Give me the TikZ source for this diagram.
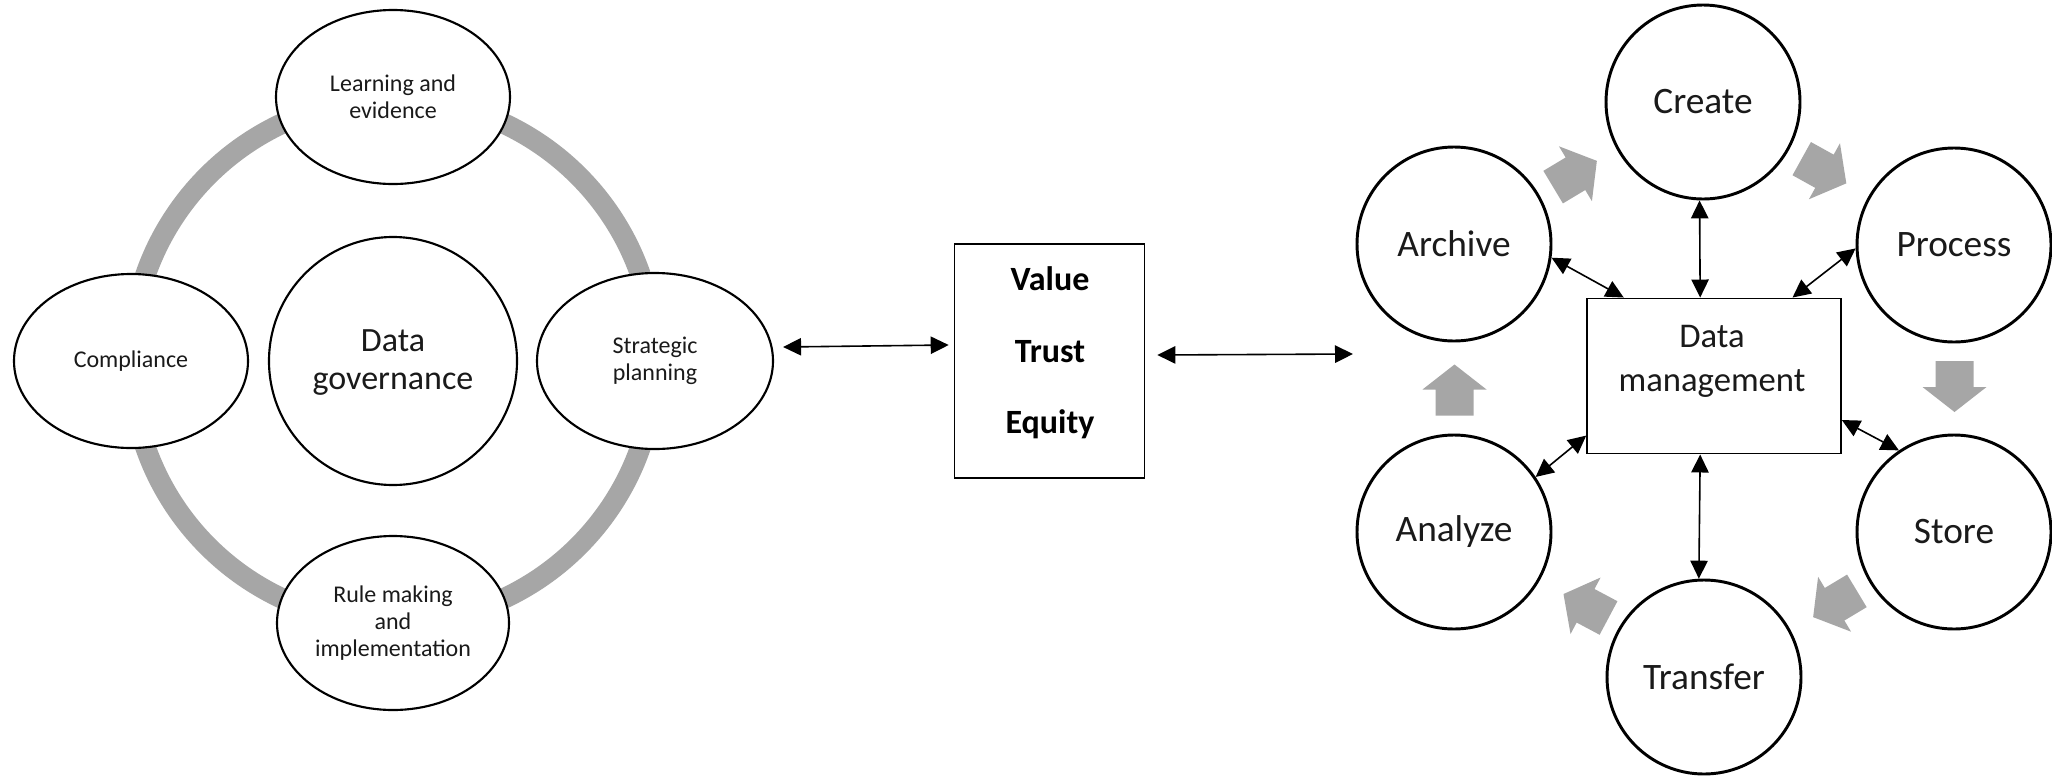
\documentclass[tikz,border=0pt]{standalone}
\usepackage{fontspec}
\setmainfont{Carlito}
\usetikzlibrary{arrows.meta,calc,shapes.geometric}
\definecolor{ringgray}{HTML}{A6A6A6}
\definecolor{txt}{HTML}{1A1A1A}
\tikzset{
  ell/.style={ellipse,draw=black,fill=white,line width=1.6pt,inner sep=0pt,
    text=txt,align=center,font=\fontsize{18}{20.5}\selectfont},
  bigcirc/.style={circle,draw=black,fill=white,line width=2.2pt,inner sep=0pt,
    minimum size=145.5pt,text=txt,font=\fontsize{28}{32}\selectfont},
  dbl/.style={{Triangle[length=13.5pt,width=13pt]}-{Triangle[length=13.5pt,width=13pt]},
    line width=1.2pt,black},
  boxnode/.style={draw=black,line width=1.2pt,inner sep=0pt,fill=white},
  blockarrow/.pic={\fill[ringgray] (-25.5,-19) -- (0.5,-19) -- (0.5,-32) -- (25.5,0)
     -- (0.5,32) -- (0.5,19) -- (-25.5,19) -- cycle;}
}
\begin{document}
\begin{tikzpicture}[x=0.75pt,y=-0.75pt]
\fill[white] (0,0) rectangle (2052,775);
\useasboundingbox (0,0) rectangle (2052,775);

% ---- left cluster ----
\draw[ringgray,line width=15.5pt] (393,361) circle[radius=262];
\node[ell,minimum width=175.5pt,minimum height=130.5pt] (learn) at (393,97) {Learning and\\evidence};
\node[ell,minimum width=175.5pt,minimum height=130.5pt] (compl) at (131,361) {Compliance};
\node[ell,minimum width=177pt,minimum height=132pt] (strat) at (655,361) {Strategic\\planning};
\node[ell,minimum width=174pt,minimum height=130.5pt] (rule) at (393,623) {Rule making\\and\\implementation};
\node[circle,draw=black,fill=white,line width=1.6pt,inner sep=0pt,minimum size=186pt,
  text=txt,align=center,font=\fontsize{25.5}{28.5}\selectfont] (dg) at (393,361) {};
\node[text=txt,align=center,font=\fontsize{25.5}{28.5}\selectfont] (dgtext) at (393,363) {Data\\governance};

% ---- middle box ----
\node[boxnode,minimum width=142.5pt,minimum height=175.5pt] (vte) at (1049.5,361) {};
\node[text=black,align=center,font=\fontsize{25.5}{53.5}\selectfont\bfseries] (vtetext) at (1050,353) {Value\\Trust\\Equity};

\draw[dbl] ($(strat.east)+(9,-14)$) -- ($(vte.west)+(-5,-16)$);
\coordinate (rend) at (1353,354);
\draw[dbl] ($(vte.east)+(12,-6)$) -- (rend);

% ---- right cluster ----
\node[boxnode,minimum width=190.5pt,minimum height=116.5pt] (dm) at (1714,376) {};
\node[text=txt,align=center,font=\fontsize{26}{33}\selectfont] (dmtext) at (1712,361) {Data\\management};

\node[bigcirc] (create) at (1703,102) {Create};
\node[bigcirc] (archive) at (1454,244) {Archive};
\node[bigcirc] (process) at (1954,245) {Process};
\node[bigcirc] (analyze) at (1454,532) {Analyze};
\node[bigcirc] (store) at (1954,532) {Store};
\node[bigcirc] (transfer) at (1704,677) {Transfer};

\pic[rotate=31] at (1575,174) {blockarrow};
\pic[rotate=-29] at (1824,171) {blockarrow};
\pic[rotate=-90] at (1954.5,386.5) {blockarrow};
\pic[rotate=-149] at (1835,604) {blockarrow};
\pic[rotate=152] at (1586,606) {blockarrow};
\pic[rotate=90] at (1454.5,390) {blockarrow};

\draw[dbl] (create.-92) -- (dm.100);
\draw[dbl] (transfer.93) -- (dm.-100);
\draw[dbl] (archive.-8) -- (dm.139);
\draw[dbl] (process.182) -- (dm.45);
\draw[dbl] (analyze.34) -- (dm.205);
\draw[dbl] (store.124) -- (dm.-19.5);
\end{tikzpicture}
\end{document}
